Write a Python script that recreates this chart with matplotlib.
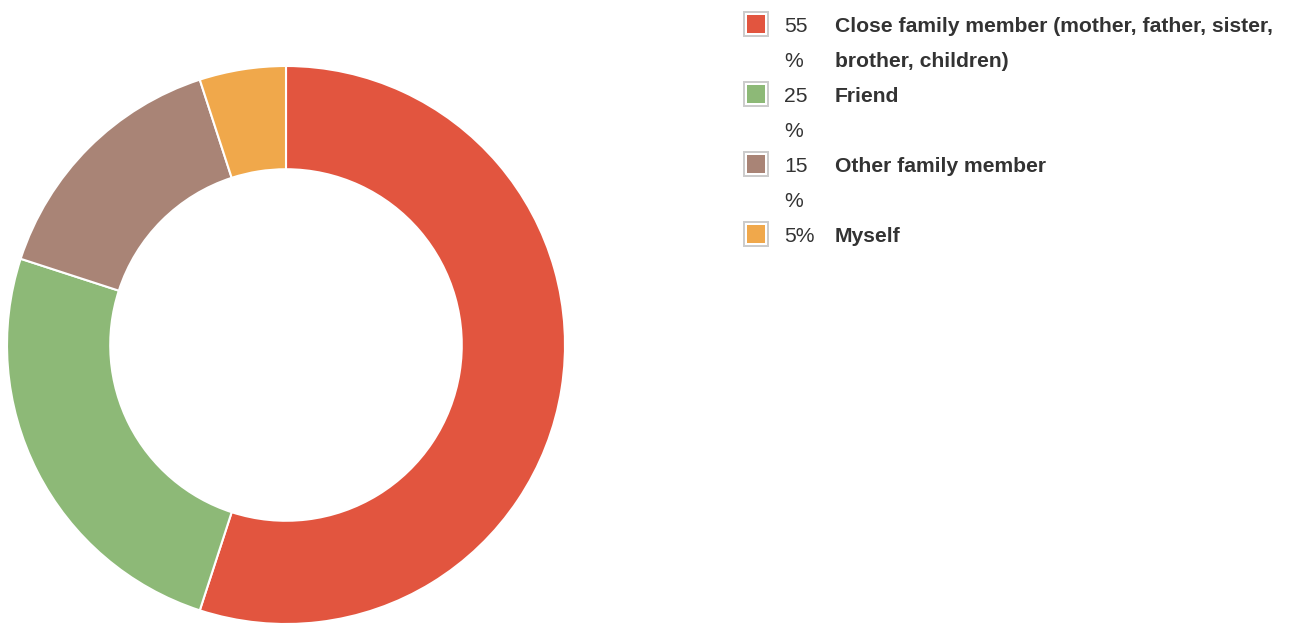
import textwrap
import matplotlib
matplotlib.use("Agg")
import matplotlib.pyplot as plt
from matplotlib.patches import Rectangle

labels = [
    "Close family member (mother, father, sister, brother, children)",
    "Friend",
    "Other family member",
    "Myself",
]
shares = [55, 25, 15, 5]
colors = ["#e2553f", "#8db977", "#a98476", "#f0a84b"]

W, H = 1303, 626
TEXT = "#333333"
plt.rcParams["font.family"] = ["Liberation Sans", "DejaVu Sans"]


def fx(px):
    return px / W


def fy(py):
    return 1 - py / H


fig = plt.figure(figsize=(W / 100, H / 100), dpi=100)
fig.patch.set_facecolor("white")

# donut: centre (286, 345), outer radius 279 px
cx, cy, r = 286, 345, 279
ax = fig.add_axes([fx(cx - r), fy(cy + r), 2 * r / W, 2 * r / H])
wedges, _ = ax.pie(
    shares,
    colors=colors,
    startangle=90,
    counterclock=False,
    radius=1.0,
    wedgeprops=dict(width=0.37, edgecolor="white", linewidth=1.5),
)
for w in wedges:
    w.set_clip_on(False)
ax.set_xlim(-1, 1)
ax.set_ylim(-1, 1)
ax.set_aspect("equal")
ax.axis("off")

# legend, drawn by hand to match the HTML-style layout
line_h = 34.5
y = 26
for lab, val, col in zip(labels, shares, colors):
    pct = f"{val}%"
    pct_lines = [pct] if len(pct) <= 2 else [pct[:-1], "%"]
    lab_lines = textwrap.wrap(lab, 45)
    n = max(len(pct_lines), len(lab_lines))

    top = y - 15
    fig.add_artist(Rectangle((fx(743), fy(top + 26)), 26 / W, 26 / H,
                             transform=fig.transFigure, facecolor="#cccccc",
                             edgecolor="none"))
    fig.add_artist(Rectangle((fx(745), fy(top + 24)), 22 / W, 22 / H,
                             transform=fig.transFigure, facecolor="white",
                             edgecolor="none"))
    fig.add_artist(Rectangle((fx(747), fy(top + 22)), 18 / W, 18 / H,
                             transform=fig.transFigure, facecolor=col,
                             edgecolor="none"))

    for i, t in enumerate(pct_lines):
        fig.text(fx(784), fy(y + 1 + i * line_h), t, fontsize=15.2, color=TEXT,
                 va="center", ha="left")
    for i, t in enumerate(lab_lines):
        fig.text(fx(835), fy(y + 1 + i * line_h), t, fontsize=15.2, color=TEXT,
                 fontweight="bold", va="center", ha="left")
    y += n * line_h + 1

fig.savefig("out.png", dpi=100, facecolor="white")
